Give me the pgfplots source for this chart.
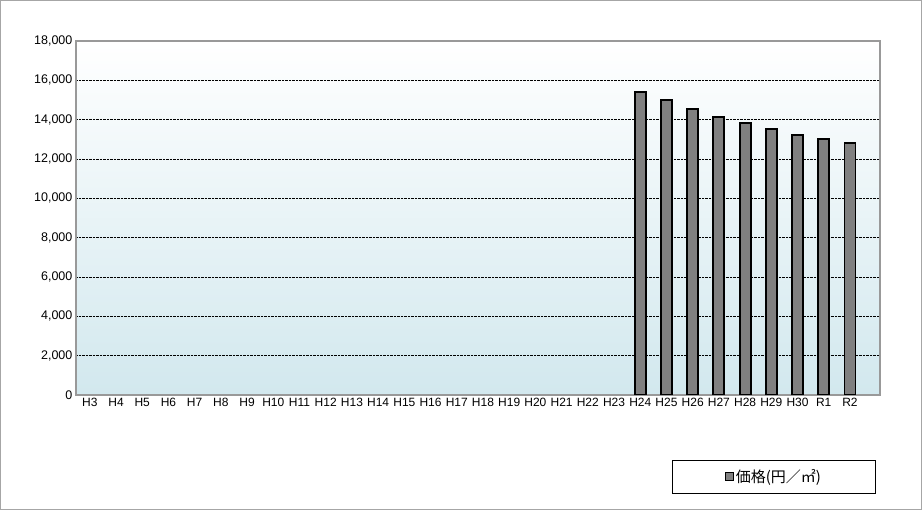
\documentclass[border=0pt]{standalone}
\usepackage{pgfplots}
\pgfplotsset{compat=1.18}
\usepackage{fontspec}
\setmainfont{Liberation Sans}
\newfontfamily\cjk{Noto Sans CJK JP}
\definecolor{bgb}{RGB}{210,232,238}
\begin{document}
\begin{tikzpicture}[x=1pt,y=1pt]
\draw[gray!70, line width=0.8pt] (0.5,-0.5) rectangle (921.5,-509.5);
\begin{axis}[at={(76pt,-395pt)}, anchor=south west, scale only axis,
 width=804pt, height=354pt,
 xmin=-0.53, xmax=30.15, ymin=0, ymax=18000,
 xtick={0,...,29},
 xticklabels={H3,H4,H5,H6,H7,H8,H9,H10,H11,H12,H13,H14,H15,H16,H17,H18,H19,H20,H21,H22,H23,H24,H25,H26,H27,H28,H29,H30,R1,R2},
 ytick={0,2000,...,18000},
 yticklabel style={/pgf/number format/.cd,1000 sep={,},assume math mode=true},
 scaled y ticks=false,
 tick label style={font=\fontsize{12.5}{14}\selectfont},
 xticklabel style={font=\fontsize{12}{14}\selectfont, xshift=0pt},
 major tick length=0pt,
 ymajorgrids, grid style={black, densely dotted, line width=0.6pt},
 axis line style={gray!80, line width=1.5pt},
 axis background/.style={top color=white, bottom color=bgb},
 legend style={at={(0.994,-0.184)}, anchor=north east, draw=black, line width=0.6pt,
   font=\cjk\fontsize{15}{17}\selectfont, inner xsep=52pt, inner ysep=7pt},
 legend image code/.code={\draw[fill=gray, draw=black, line width=1.2pt] (0pt,-4pt) rectangle (8pt,4pt);},
]
\addplot[ybar, bar width=11pt, fill=gray, draw=black, line width=1.8pt] coordinates {
(21,15420) (22,15000) (23,14520) (24,14120) (25,13820) (26,13510) (27,13230) (28,13010) (29,12830)};
\addlegendentry{価格(円／㎡)}
\end{axis}
\end{tikzpicture}
\end{document}
